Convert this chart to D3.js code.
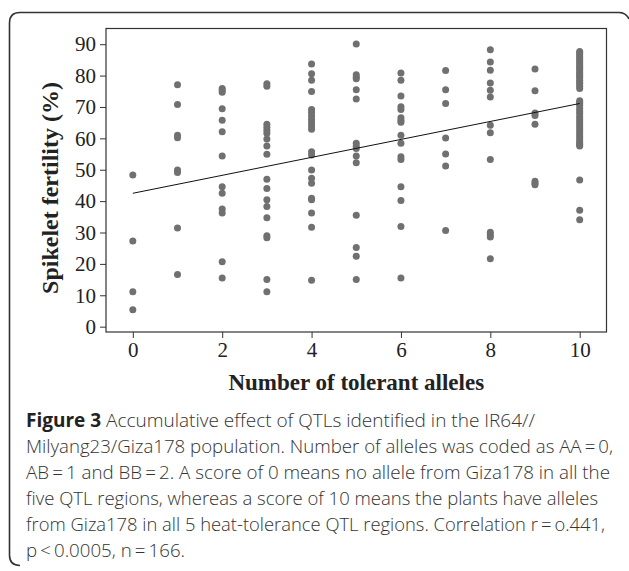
<!DOCTYPE html>
<html>
<head>
<meta charset="utf-8">
<script src="https://cdn.jsdelivr.net/npm/d3@7"></script>
<style>
  body { margin: 0; background: #fff; }
  svg { display: block; }
</style>
</head>
<body>
<div id="chart"></div>
<script>
// allele score groups and spikelet fertility (%) of the lines in each group
var alleleCounts = [0, 1, 2, 3, 4, 5, 6, 7, 8, 9, 10];
var fertility = [
    [48.3, 27.3, 11.1, 5.4],
    [77.1, 70.8, 61.0, 60.2, 49.9, 49.1, 31.4, 16.6],
    [75.9, 75.3, 74.7, 69.4, 65.8, 62.1, 54.4, 44.6, 42.5, 37.5, 36.2, 20.7, 15.5],
    [77.4, 76.6, 64.5, 63.5, 62.6, 61.6, 59.8, 57.6, 54.9, 47.0, 44.0, 40.4, 38.3, 34.7, 29.0, 28.3, 15.0, 11.1],
    [83.7, 80.6, 78.5, 74.9, 69.2, 68.2, 67.1, 66.0, 65.0, 63.9, 62.9, 55.7, 54.7, 49.9, 47.3, 45.7, 40.9, 40.4, 36.2, 31.7, 14.8],
    [90.1, 80.3, 79.5, 79.0, 75.5, 72.5, 58.4, 57.5, 56.8, 54.4, 52.2, 35.5, 25.2, 22.4, 15.0],
    [80.8, 78.5, 73.5, 70.1, 69.2, 66.6, 65.8, 65.1, 61.0, 58.4, 54.1, 53.3, 44.6, 40.2, 31.9, 15.5],
    [81.6, 75.5, 71.1, 60.1, 55.0, 51.2, 30.6],
    [88.2, 84.3, 81.7, 77.6, 75.3, 73.2, 64.2, 61.8, 53.3, 30.1, 29.3, 28.6, 21.6],
    [82.1, 75.2, 68.1, 67.3, 64.5, 46.3, 45.7, 45.2],
    [87.7, 87.2, 86.6, 86.0, 85.4, 84.8, 84.2, 83.5, 82.9, 82.3, 81.7, 81.0, 80.4, 79.8, 79.2, 78.5, 77.9, 77.3, 76.6, 75.9,
     72.0, 71.6, 71.0, 70.5, 69.5, 68.7, 67.9, 67.0, 66.2, 65.4, 64.6, 63.8, 63.0, 62.2, 61.4, 60.6, 59.8, 59.0, 58.3, 58.0, 57.6,
     46.7, 37.1, 34.1]
];
var xTicks = [0, 2, 4, 6, 8, 10];
var yTicks = [0, 10, 20, 30, 40, 50, 60, 70, 80, 90];
// fitted line
var fitIntercept = 42.5;
var fitSlope = 2.86;

var captionLines = [
    "Accumulative effect of QTLs identified in the IR64//",
    "Milyang23/Giza178 population. Number of alleles was coded as AA\u2009=\u20090,",
    "AB\u2009=\u20091 and BB\u2009=\u20092. A score of 0 means no allele from Giza178 in all the",
    "five QTL regions, whereas a score of 10 means the plants have alleles",
    "from Giza178 in all 5 heat-tolerance QTL regions. Correlation r\u2009=\u2009o.441,",
    "p\u2009<\u20090.0005, n\u2009=\u2009166."
];
var captionEnds = [535, 613, 610, 598, 605, 185];

var W = 629, H = 571;
var plot = { left: 106, top: 28.5, right: 606.5, bottom: 332 };

var svg = d3.select("#chart").append("svg")
    .attr("width", W)
    .attr("height", H);

// outer figure frame (left + top with rounded corners)
svg.append("path")
    .attr("d", "M 20,565.5 Q 9.5,565.5 9.5,555 L 9.5,23 Q 9.5,12.5 20,12.5 L 619,12.5 Q 626,12.5 629,19")
    .attr("fill", "none")
    .attr("stroke", "#333")
    .attr("stroke-width", 1.6);

var x = d3.scaleLinear()
    .domain([-0.6, 10.6])
    .range([plot.left, plot.right]);

var y = d3.scaleLinear()
    .domain([-1.7, 95])
    .range([plot.bottom, plot.top]);

// axes
var xAxis = svg.append("g")
    .attr("transform", "translate(0," + plot.bottom + ")")
    .call(d3.axisBottom(x).tickValues(xTicks).tickSize(6).tickPadding(4));
var yAxis = svg.append("g")
    .attr("transform", "translate(" + plot.left + ",0)")
    .call(d3.axisLeft(y).tickValues(yTicks).tickSize(6).tickPadding(4));

[xAxis, yAxis].forEach(function (g) {
    g.select(".domain").remove();
    g.selectAll("line").attr("stroke", "#333");
    g.selectAll("text")
        .style("font-family", "'Liberation Serif', 'DejaVu Serif', serif")
        .style("font-size", "21px")
        .attr("fill", "#222");
});

// plot frame
svg.append("rect")
    .attr("x", plot.left)
    .attr("y", plot.top)
    .attr("width", plot.right - plot.left)
    .attr("height", plot.bottom - plot.top)
    .attr("fill", "none")
    .attr("stroke", "#333")
    .attr("stroke-width", 1.2);

// dots
var points = [];
alleleCounts.forEach(function (a, i) {
    fertility[i].forEach(function (v) { points.push({ a: a, v: v }); });
});

svg.append("g")
    .selectAll("circle")
    .data(points)
    .enter()
    .append("circle")
    .attr("cx", function (d) { return x(d.a); })
    .attr("cy", function (d) { return y(d.v); })
    .attr("r", 3.5)
    .attr("fill", "#707070");

// fitted line
svg.append("line")
    .attr("x1", x(0))
    .attr("y1", y(fitIntercept))
    .attr("x2", x(10))
    .attr("y2", y(fitIntercept + fitSlope * 10))
    .attr("stroke", "#111")
    .attr("stroke-width", 1);

// axis titles
svg.append("text")
    .attr("x", (plot.left + plot.right) / 2)
    .attr("y", 390)
    .attr("text-anchor", "middle")
    .style("font-family", "'Liberation Serif', serif")
    .style("font-weight", "bold")
    .style("font-size", "23px")
    .attr("fill", "#222")
    .text("Number of tolerant alleles");

svg.append("text")
    .attr("transform", "translate(58,188) rotate(-90)")
    .attr("text-anchor", "middle")
    .style("font-family", "'Liberation Serif', serif")
    .style("font-weight", "bold")
    .style("font-size", "24px")
    .attr("fill", "#222")
    .text("Spikelet fertility (%)");

// caption
var cap = svg.append("g")
    .style("font-family", "'Open Sans', sans-serif")
    .style("font-weight", "300")
    .style("font-size", "19px")
    .attr("fill", "#333");

captionLines.forEach(function (line, i) {
    var t = cap.append("text")
        .attr("x", 26)
        .attr("y", 427 + i * 26)
        .attr("textLength", captionEnds[i] - 26)
        .attr("lengthAdjust", "spacingAndGlyphs");
    if (i == 0) {
        t.append("tspan").style("font-weight", "bold").attr("fill", "#222").text("Figure 3");
        t.append("tspan").text(" " + line);
    } else {
        t.text(line);
    }
});
</script>
</body>
</html>
